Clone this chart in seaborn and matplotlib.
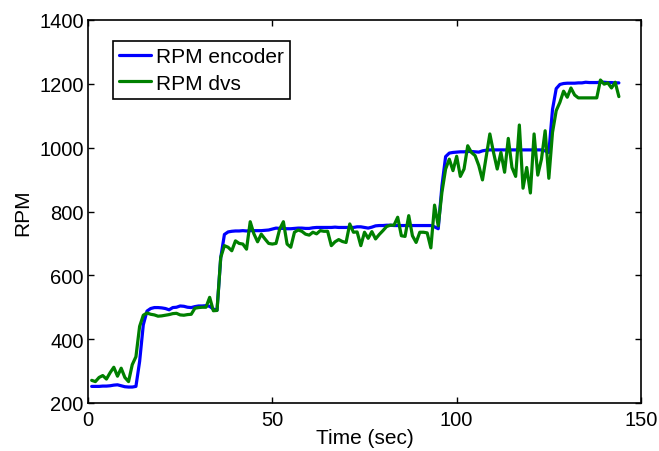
import numpy as np
import pandas as pd
import matplotlib
matplotlib.use("Agg")
import matplotlib.pyplot as plt
import seaborn as sns

# time axis, one sample per second
time_sec = np.arange(1, 145)

rpm_encoder = [
    252, 252, 252, 253, 253, 254, 256, 257, 254, 251, 250, 250,
    252, 330, 445, 488, 496, 499, 499, 498,
    496, 492, 499, 500, 504, 503, 500, 499, 502, 504,
    504, 505, 503, 494, 491, 655, 728, 736, 738, 739,
    739, 740, 739, 740, 740, 740, 740, 741, 742, 745,
    748, 747, 747, 746, 746, 747, 748, 748, 747, 747,
    749, 750, 750, 750, 750, 750, 751, 750, 750, 750,
    750, 750, 752, 752, 750, 748, 751, 755, 756, 756,
    757, 757, 756, 756, 756, 756, 756, 756, 756, 756,
    756, 756, 756, 752, 746, 880, 972, 983, 985, 986,
    987, 987, 988, 988, 987, 986, 990, 992, 993, 993,
    993, 993, 993, 993, 993, 993, 993, 993, 993, 993,
    993, 993, 993, 990, 985, 1120, 1185, 1198, 1201, 1202,
    1202, 1202, 1203, 1203, 1205, 1204, 1204, 1204, 1205, 1205,
    1204, 1204, 1203, 1203,
]

rpm_dvs = [
    271, 267, 280, 286, 275, 295, 312, 284, 309, 280,
    267, 320, 345, 440, 475, 482, 478, 476, 472, 473,
    475, 477, 480, 481, 476, 475, 477, 478, 497, 499,
    500, 500, 531, 489, 490, 656, 693, 688, 677, 708,
    700, 698, 682, 768, 730, 705, 729, 714, 700, 698,
    700, 745, 768, 698, 688, 735, 742, 738, 729, 726,
    735, 730, 740, 738, 738, 693, 705, 712, 706, 703,
    761, 735, 736, 693, 735, 716, 737, 714, 728, 740,
    753, 757, 757, 782, 724, 722, 787, 724, 703, 735,
    735, 733, 686, 820, 755, 860, 933, 964, 928, 973,
    910, 933, 1006, 985, 975, 944, 899, 970, 1043, 985,
    933, 985, 923, 1029, 938, 910, 1071, 873, 938, 858,
    1043, 914, 964, 1053, 904, 1048, 1116, 1142, 1177, 1158,
    1187, 1165, 1156, 1156, 1156, 1156, 1156, 1156, 1212, 1199,
    1203, 1187, 1205, 1160,
]

x_ticks = [0, 50, 100, 150]
y_ticks = [200, 400, 600, 800, 1000, 1200, 1400]

sns.set_theme(style="ticks")
plt.rcParams['font.family'] = ['Liberation Sans', 'DejaVu Sans']
plt.rcParams['axes.linewidth'] = 1.2
plt.rcParams['text.color'] = 'black'
plt.rcParams['axes.labelcolor'] = 'black'
plt.rcParams['xtick.color'] = 'black'
plt.rcParams['ytick.color'] = 'black'

df = pd.DataFrame({'time': time_sec, 'encoder': rpm_encoder, 'dvs': rpm_dvs})

fig = plt.figure(figsize=(6.59, 4.52), dpi=100)
ax = fig.add_axes([88 / 659, 48 / 452, 553 / 659, 383 / 452])

sns.lineplot(data=df, x='time', y='encoder', color='#0000ff', linewidth=2.3,
             label='RPM encoder', ax=ax)
sns.lineplot(data=df, x='time', y='dvs', color='#008000', linewidth=2.3,
             label='RPM dvs', ax=ax)

ax.set_xlim(0, 150)
ax.set_ylim(200, 1400)
ax.set_xticks(x_ticks)
ax.set_yticks(y_ticks)
ax.tick_params(axis='both', which='both', direction='in', top=True, right=True,
               length=4, width=1, colors='black', labelsize=14.5)
ax.tick_params(axis='x', pad=5)
ax.tick_params(axis='y', pad=3)
for s in ax.spines.values():
    s.set_visible(True)
    s.set_color('black')

ax.set_xlabel('Time (sec)', fontsize=15, labelpad=-1)
ax.set_ylabel('RPM', fontsize=15, labelpad=5)

leg = ax.legend(loc='upper left', bbox_to_anchor=(0.045, 0.945), borderaxespad=0,
                fontsize=15, handlelength=1.55, handletextpad=0.2,
                labelspacing=0.35, borderpad=0.3, fancybox=False,
                framealpha=1, edgecolor='black')
leg.get_frame().set_linewidth(1.2)
for txt in leg.get_texts():
    txt.set_color('black')

fig.savefig('out.png', dpi=100)
